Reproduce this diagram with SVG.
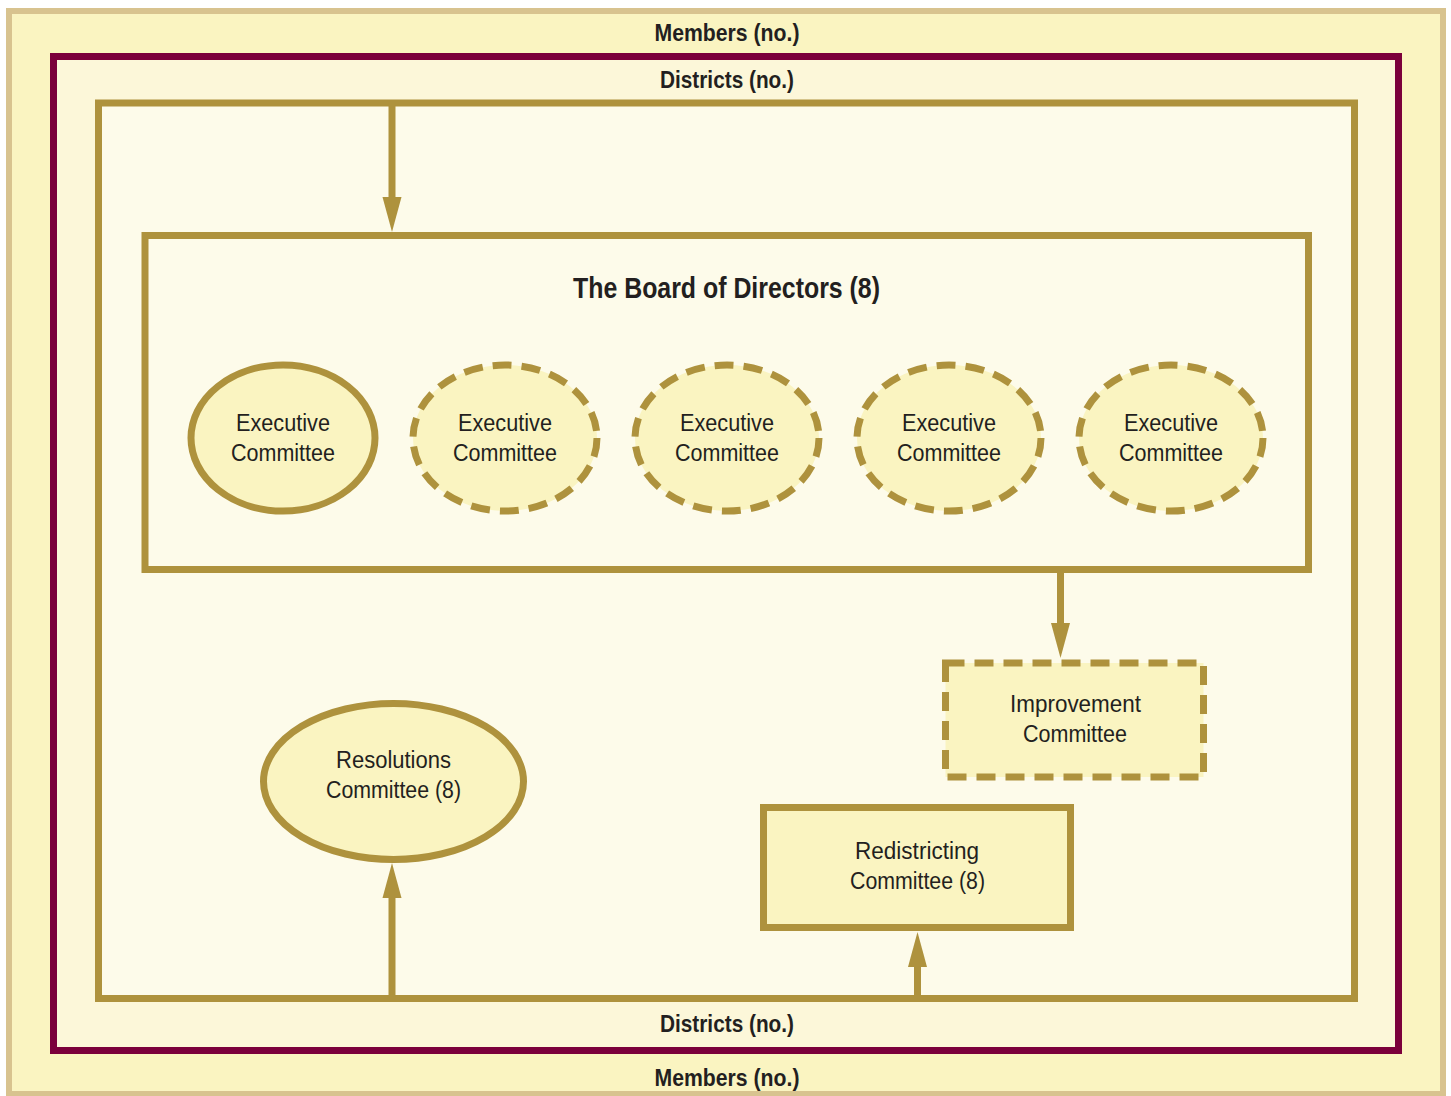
<svg xmlns="http://www.w3.org/2000/svg" width="1451" height="1096" viewBox="0 0 1451 1096">
  <defs>
    <style>
      .frame-outer { fill: #faf4c1; stroke: #d8c38f; stroke-width: 6; }
      .frame-members { fill: #fcf7d9; stroke: #7b003b; stroke-width: 7; }
      .frame-districts { fill: #fdfbea; stroke: #ae923d; stroke-width: 7; }
      .board { fill: #fdfbea; stroke: #ae923d; stroke-width: 7; }
      .node { fill: #faf4c1; stroke: #ae923d; stroke-width: 7; }
      .dashed { stroke-dasharray: 19 10; }
      .link { fill: none; stroke: #ae923d; stroke-width: 7; marker-end: url(#head); }
      .lbl { font-family: "Liberation Sans", Arial, sans-serif; font-size: 23.5px; fill: #231f20; text-anchor: middle; }
      .bold { font-weight: bold; font-size: 24px; }
      .title { font-weight: bold; font-size: 29px; }
    </style>
    <marker id="head" markerUnits="userSpaceOnUse" markerWidth="36" markerHeight="20" refX="0" refY="10" orient="auto" overflow="visible">
      <path d="M0,0.5 L35,10 L0,19.5 Z" fill="#ae923d"/>
    </marker>
  </defs>

  <rect width="1451" height="1096" fill="#ffffff"/>

  <!-- nested frames -->
  <g id="members-frame">
    <rect class="frame-outer" x="9" y="11" width="1434" height="1083"/>
    <text class="lbl bold" x="727" y="41" textLength="145" lengthAdjust="spacingAndGlyphs">Members (no.)</text>
    <text class="lbl bold" x="727" y="1086" textLength="145" lengthAdjust="spacingAndGlyphs">Members (no.)</text>
  </g>
  <g id="districts-frame">
    <rect class="frame-members" x="53.5" y="56.5" width="1345" height="994"/>
    <text class="lbl bold" x="727" y="88" textLength="134" lengthAdjust="spacingAndGlyphs">Districts (no.)</text>
    <text class="lbl bold" x="727" y="1032" textLength="134" lengthAdjust="spacingAndGlyphs">Districts (no.)</text>
  </g>
  <g id="inner-frame">
    <rect class="frame-districts" x="98.5" y="103" width="1256" height="895.5"/>
  </g>

  <!-- board of directors -->
  <g id="board">
    <rect class="board" x="145" y="235.5" width="1163.5" height="334"/>
    <text class="lbl title" x="726.5" y="298" textLength="307" lengthAdjust="spacingAndGlyphs">The Board of Directors (8)</text>
  </g>

  <g id="exec-1">
    <ellipse class="node" cx="283" cy="438" rx="92" ry="73"/>
    <text class="lbl" x="283" y="431" textLength="94" lengthAdjust="spacingAndGlyphs">Executive</text>
    <text class="lbl" x="283" y="461" textLength="104" lengthAdjust="spacingAndGlyphs">Committee</text>
  </g>
  <g id="exec-2">
    <ellipse class="node dashed" cx="505" cy="438" rx="92" ry="73"/>
    <text class="lbl" x="505" y="431" textLength="94" lengthAdjust="spacingAndGlyphs">Executive</text>
    <text class="lbl" x="505" y="461" textLength="104" lengthAdjust="spacingAndGlyphs">Committee</text>
  </g>
  <g id="exec-3">
    <ellipse class="node dashed" cx="727" cy="438" rx="92" ry="73"/>
    <text class="lbl" x="727" y="431" textLength="94" lengthAdjust="spacingAndGlyphs">Executive</text>
    <text class="lbl" x="727" y="461" textLength="104" lengthAdjust="spacingAndGlyphs">Committee</text>
  </g>
  <g id="exec-4">
    <ellipse class="node dashed" cx="949" cy="438" rx="92" ry="73"/>
    <text class="lbl" x="949" y="431" textLength="94" lengthAdjust="spacingAndGlyphs">Executive</text>
    <text class="lbl" x="949" y="461" textLength="104" lengthAdjust="spacingAndGlyphs">Committee</text>
  </g>
  <g id="exec-5">
    <ellipse class="node dashed" cx="1171" cy="438" rx="92" ry="73"/>
    <text class="lbl" x="1171" y="431" textLength="94" lengthAdjust="spacingAndGlyphs">Executive</text>
    <text class="lbl" x="1171" y="461" textLength="104" lengthAdjust="spacingAndGlyphs">Committee</text>
  </g>

  <g id="improvement">
    <rect class="node dashed" x="945.5" y="663" width="258" height="114"/>
    <text class="lbl" x="1075.5" y="712" textLength="131" lengthAdjust="spacingAndGlyphs">Improvement</text>
    <text class="lbl" x="1075" y="742" textLength="104" lengthAdjust="spacingAndGlyphs">Committee</text>
  </g>

  <g id="resolutions">
    <ellipse class="node" cx="393.5" cy="781.5" rx="130" ry="78"/>
    <text class="lbl" x="393.5" y="768" textLength="115" lengthAdjust="spacingAndGlyphs">Resolutions</text>
    <text class="lbl" x="393.5" y="798" textLength="135" lengthAdjust="spacingAndGlyphs">Committee (8)</text>
  </g>

  <g id="redistricting">
    <rect class="node" x="763.5" y="807.5" width="307" height="120"/>
    <text class="lbl" x="917" y="859" textLength="124" lengthAdjust="spacingAndGlyphs">Redistricting</text>
    <text class="lbl" x="917.5" y="889" textLength="135" lengthAdjust="spacingAndGlyphs">Committee (8)</text>
  </g>

  <!-- connectors -->
  <g id="connectors">
    <line class="link" x1="392" y1="103" x2="392" y2="197"/>
    <line class="link" x1="1060.5" y1="569.5" x2="1060.5" y2="623"/>
    <line class="link" x1="392" y1="998" x2="392" y2="898"/>
    <line class="link" x1="917.5" y1="998" x2="917.5" y2="967"/>
  </g>
</svg>
